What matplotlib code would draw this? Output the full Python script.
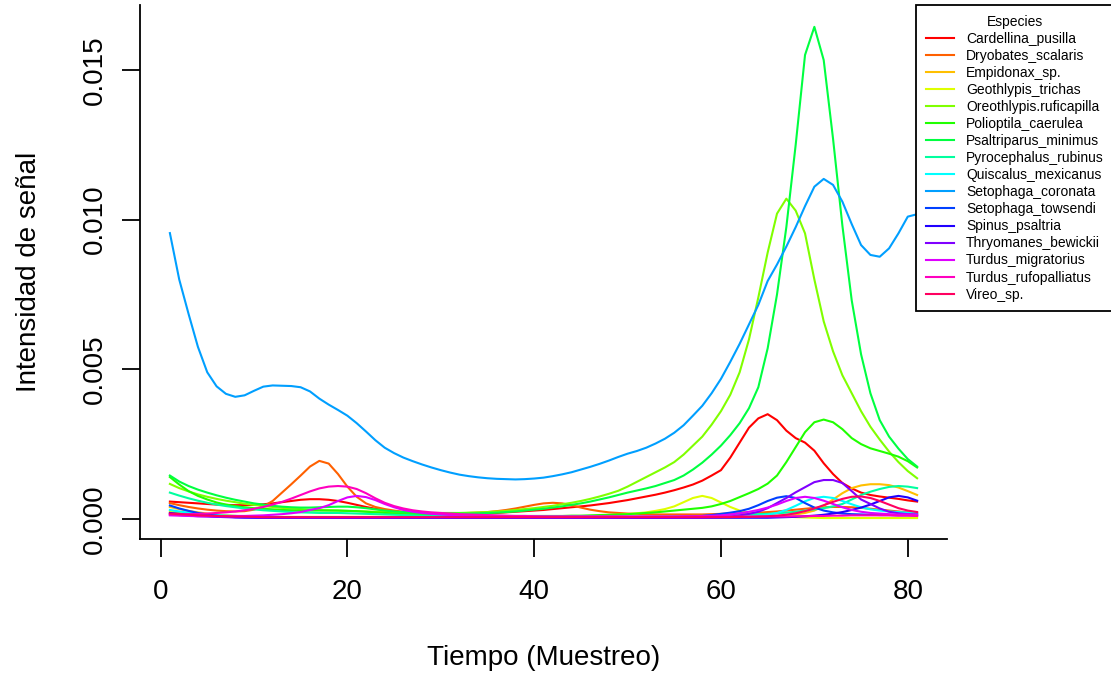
import numpy as np
import matplotlib
matplotlib.use("Agg")
import matplotlib.pyplot as plt

plt.rcParams.update({
    "font.family": "Liberation Sans",
    "axes.linewidth": 1.3,
})

# ── DATA (intensity in units of 1e-4) ─────────────────────────────────────────
muestreo = list(range(1, 82))
ESCALA = 1e-4

especies = ["Cardellina_pusilla", "Dryobates_scalaris", "Empidonax_sp.",
            "Geothlypis_trichas", "Oreothlypis.ruficapilla", "Polioptila_caerulea",
            "Psaltriparus_minimus", "Pyrocephalus_rubinus", "Quiscalus_mexicanus",
            "Setophaga_coronata", "Setophaga_towsendi", "Spinus_psaltria",
            "Thryomanes_bewickii", "Turdus_migratorius", "Turdus_rufopalliatus",
            "Vireo_sp."]

# rainbow(16)
colores = ["#FF0000", "#FF6000", "#FFBF00", "#DFFF00", "#80FF00", "#20FF00",
           "#00FF40", "#00FF9F", "#00FFFF", "#009FFF", "#0040FF", "#2000FF",
           "#8000FF", "#DF00FF", "#FF00BF", "#FF0060"]

cardellina = [5.8, 5.6, 5.4, 5.2, 5.0, 4.8, 4.7, 4.6, 4.6, 4.7,
              4.9, 5.2, 5.6, 6.0, 6.4, 6.6, 6.6, 6.4, 6.0, 5.4,
              4.7, 4.0, 3.4, 2.9, 2.5, 2.2, 2.0, 1.8, 1.7, 1.6,
              1.6, 1.6, 1.7, 1.8, 1.9, 2.0, 2.2, 2.4, 2.6, 2.8,
              3.0, 3.3, 3.6, 3.9, 4.2, 4.5, 4.9, 5.3, 5.8, 6.3,
              6.9, 7.5, 8.1, 8.8, 9.6, 10.5, 11.5, 12.8, 14.5, 16.3,
              20.5, 25.5, 30.5, 33.6, 35.0, 33.0, 29.5, 27.0, 25.5, 22.8,
              18.6, 15.0, 12.0, 10.2, 8.8, 8.0, 7.5, 7.1, 6.7, 6.2, 5.8]

dryobates = [5.3, 4.6, 4.0, 3.5, 3.1, 2.8, 2.6, 2.5, 2.6, 3.1,
             4.2, 6.0, 8.8, 11.6, 14.5, 17.5, 19.4, 18.5, 15.0, 10.8,
             7.4, 5.2, 4.0, 3.3, 2.8, 2.4, 2.2, 2.0, 1.9, 1.9,
             1.9, 1.9, 2.0, 2.1, 2.3, 2.6, 3.0, 3.5, 4.1, 4.7,
             5.2, 5.4, 5.2, 4.6, 3.8, 3.1, 2.6, 2.2, 2.0, 1.8,
             1.7, 1.6, 1.5, 1.5, 1.5, 1.5, 1.5, 1.5, 1.6, 1.7,
             1.8, 1.9, 2.0, 2.1, 2.3, 2.5, 2.8, 3.1, 3.4, 3.7,
             3.9, 4.0, 4.0, 3.9, 3.7, 3.4, 3.1, 2.8, 2.5, 2.2, 2.0]

empidonax = [4.0, 3.3, 2.7, 2.2, 1.8, 1.5, 1.2, 1.0, 0.8, 0.7,
             0.6, 0.6, 0.6, 0.6, 0.6, 0.6, 0.6, 0.6, 0.6, 0.6,
             0.5, 0.5, 0.5, 0.5, 0.5, 0.5, 0.5, 0.5, 0.5, 0.5,
             0.5, 0.5, 0.5, 0.5, 0.5, 0.5, 0.5, 0.5, 0.5, 0.5,
             0.5, 0.5, 0.5, 0.5, 0.5, 0.5, 0.5, 0.5, 0.5, 0.5,
             0.5, 0.5, 0.5, 0.5, 0.5, 0.5, 0.5, 0.6, 0.6, 0.6,
             0.6, 0.6, 0.7, 0.8, 0.9, 1.0, 1.2, 1.5, 2.0, 2.8,
             4.4, 6.5, 8.6, 10.3, 11.2, 11.6, 11.6, 11.3, 10.5, 9.3, 8.0]

geothlypis = [2.5, 2.2, 1.9, 1.7, 1.5, 1.3, 1.1, 1.0, 0.9, 0.8,
              0.7, 0.7, 0.7, 0.7, 0.7, 0.7, 0.7, 0.7, 0.7, 0.7,
              0.7, 0.7, 0.7, 0.7, 0.7, 0.7, 0.7, 0.7, 0.7, 0.7,
              0.7, 0.7, 0.7, 0.7, 0.7, 0.7, 0.7, 0.7, 0.7, 0.7,
              0.7, 0.7, 0.8, 0.8, 0.9, 1.0, 1.1, 1.2, 1.4, 1.6,
              1.9, 2.2, 2.7, 3.3, 4.2, 5.6, 7.0, 7.7, 7.0, 5.5,
              4.0, 2.8, 2.0, 1.5, 1.2, 1.0, 0.8, 0.6, 0.5, 0.4,
              0.3, 0.3, 0.3, 0.3, 0.3, 0.3, 0.3, 0.3, 0.3, 0.3, 0.3]

oreothlypis = [11.7, 10.3, 9.2, 8.2, 7.4, 6.7, 6.1, 5.6, 5.1, 4.7,
               4.3, 4.0, 3.7, 3.5, 3.3, 3.1, 3.0, 2.9, 2.8, 2.7,
               2.6, 2.5, 2.4, 2.3, 2.2, 2.1, 2.0, 2.0, 2.0, 2.0,
               2.0, 2.0, 2.1, 2.2, 2.3, 2.5, 2.7, 3.0, 3.3, 3.6,
               4.0, 4.4, 4.9, 5.4, 6.0, 6.7, 7.5, 8.4, 9.4, 10.8,
               12.4, 14.0, 15.6, 17.2, 19.0, 21.5, 24.5, 27.5, 31.5, 36.0,
               41.5, 49.0, 60.0, 74.0, 89.0, 102.0, 107.0, 103.0, 95.4, 80.0,
               66.0, 56.0, 48.0, 42.0, 36.0, 30.8, 26.5, 22.5, 19.0, 16.0, 13.6]

polioptila = [14.0, 11.5, 9.3, 7.7, 6.5, 5.5, 4.8, 4.3, 3.9, 3.6,
              3.4, 3.2, 3.0, 2.9, 2.8, 2.8, 2.8, 2.8, 2.8, 2.7,
              2.6, 2.4, 2.2, 2.0, 1.8, 1.6, 1.5, 1.4, 1.3, 1.2,
              1.1, 1.1, 1.0, 1.0, 1.0, 1.0, 1.0, 1.0, 1.0, 1.0,
              1.0, 1.0, 1.0, 1.1, 1.1, 1.2, 1.3, 1.4, 1.5, 1.6,
              1.8, 2.0, 2.2, 2.5, 2.8, 3.1, 3.4, 3.7, 4.2, 5.0,
              6.0, 7.3, 8.6, 10.0, 11.8, 14.5, 19.0, 24.0, 29.0, 32.3,
              33.2, 32.3, 30.0, 27.0, 25.0, 23.6, 22.7, 21.8, 20.8, 19.3, 17.2]

psaltriparus = [14.5, 12.5, 11.0, 9.8, 8.8, 7.9, 7.1, 6.4, 5.8, 5.2,
                4.8, 4.4, 4.1, 3.9, 3.8, 3.8, 3.9, 4.0, 4.1, 4.1,
                3.9, 3.6, 3.2, 2.8, 2.5, 2.3, 2.1, 2.0, 1.9, 1.8,
                1.8, 1.8, 1.8, 1.9, 2.0, 2.1, 2.3, 2.5, 2.8, 3.1,
                3.4, 3.8, 4.2, 4.7, 5.2, 5.8, 6.5, 7.2, 8.0, 8.8,
                9.5, 10.2, 11.0, 12.0, 13.0, 14.5, 16.5, 18.8, 21.5, 24.5,
                28.0, 32.0, 37.0, 44.0, 57.0, 75.0, 97.5, 125.0, 155.0, 164.4,
                153.3, 127.0, 98.0, 73.0, 55.0, 42.0, 33.0, 27.5, 23.5, 20.0, 17.5]

pyrocephalus = [8.8, 7.8, 6.9, 6.1, 5.4, 4.8, 4.3, 3.9, 3.5, 3.2,
                2.9, 2.7, 2.5, 2.3, 2.2, 2.1, 2.0, 2.0, 2.0, 1.9,
                1.8, 1.7, 1.6, 1.5, 1.4, 1.3, 1.2, 1.1, 1.0, 1.0,
                0.9, 0.9, 0.9, 0.9, 0.9, 0.9, 0.9, 0.9, 0.9, 0.9,
                0.8, 0.8, 0.8, 0.8, 0.8, 0.8, 0.8, 0.8, 0.8, 0.8,
                0.8, 0.8, 0.8, 0.8, 0.9, 0.9, 1.0, 1.0, 1.1, 1.2,
                1.3, 1.4, 1.5, 1.6, 1.7, 1.9, 2.1, 2.4, 2.8, 3.2,
                3.6, 4.2, 5.0, 6.5, 8.0, 9.1, 10.0, 10.7, 11.0, 10.8, 10.3]

quiscalus = [3.0, 2.5, 2.1, 1.8, 1.5, 1.3, 1.1, 1.0, 0.9, 0.8,
             0.7, 0.7, 0.6, 0.6, 0.6, 0.6, 0.6, 0.6, 0.6, 0.6,
             0.6, 0.6, 0.6, 0.6, 0.6, 0.6, 0.6, 0.6, 0.6, 0.6,
             0.6, 0.6, 0.6, 0.6, 0.6, 0.6, 0.6, 0.6, 0.6, 0.6,
             0.6, 0.6, 0.6, 0.6, 0.6, 0.6, 0.6, 0.6, 0.6, 0.6,
             0.6, 0.6, 0.6, 0.6, 0.6, 0.6, 0.6, 0.6, 0.6, 0.6,
             0.7, 0.8, 0.9, 1.1, 1.4, 2.0, 3.0, 4.4, 5.9, 7.0,
             7.4, 7.0, 6.0, 4.9, 3.9, 3.2, 2.8, 2.5, 2.3, 2.1, 1.9]

coronata = [95.5, 80.0, 68.5, 57.5, 49.0, 44.3, 41.8, 40.8, 41.3, 42.8,
            44.2, 44.6, 44.5, 44.4, 44.0, 42.6, 40.2, 38.2, 36.4, 34.5,
            32.0, 29.2, 26.3, 23.8, 22.0, 20.5, 19.3, 18.2, 17.2, 16.3,
            15.5, 14.8, 14.3, 13.9, 13.6, 13.4, 13.3, 13.2, 13.3, 13.5,
            13.8, 14.3, 14.9, 15.6, 16.5, 17.4, 18.4, 19.5, 20.7, 21.8,
            22.7, 23.8, 25.2, 26.8, 28.8, 31.3, 34.5, 37.8, 42.0, 46.8,
            52.5, 58.5, 65.0, 71.5, 79.5, 85.0, 91.0, 97.5, 104.5, 111.0,
            113.6, 111.6, 106.0, 98.5, 91.5, 88.2, 87.6, 90.4, 95.4, 101.0, 101.8]

towsendi = [4.5, 3.5, 2.7, 2.0, 1.5, 1.1, 0.8, 0.6, 0.5, 0.4,
            0.4, 0.4, 0.4, 0.4, 0.4, 0.4, 0.4, 0.4, 0.4, 0.4,
            0.4, 0.4, 0.4, 0.4, 0.4, 0.4, 0.4, 0.4, 0.4, 0.4,
            0.4, 0.4, 0.4, 0.4, 0.4, 0.4, 0.4, 0.4, 0.4, 0.4,
            0.4, 0.4, 0.4, 0.4, 0.4, 0.4, 0.4, 0.4, 0.4, 0.4,
            0.4, 0.4, 0.5, 0.5, 0.6, 0.7, 0.8, 1.0, 1.3, 1.7,
            2.1, 2.6, 3.4, 4.6, 6.0, 7.1, 7.6, 7.0, 5.3, 3.8,
            2.8, 2.2, 1.8, 1.6, 1.5, 1.4, 1.3, 1.3, 1.2, 1.2, 1.1]

spinus = [2.0, 1.7, 1.4, 1.2, 1.0, 0.8, 0.7, 0.6, 0.5, 0.5,
          0.4, 0.4, 0.4, 0.4, 0.4, 0.4, 0.4, 0.4, 0.4, 0.4,
          0.4, 0.4, 0.4, 0.4, 0.4, 0.4, 0.4, 0.4, 0.4, 0.4,
          0.4, 0.4, 0.4, 0.4, 0.4, 0.4, 0.4, 0.4, 0.4, 0.4,
          0.4, 0.4, 0.4, 0.4, 0.4, 0.4, 0.4, 0.4, 0.4, 0.4,
          0.4, 0.4, 0.4, 0.4, 0.4, 0.4, 0.4, 0.4, 0.4, 0.4,
          0.4, 0.4, 0.4, 0.4, 0.4, 0.5, 0.6, 0.7, 0.9, 1.1,
          1.4, 1.8, 2.3, 3.0, 3.8, 4.8, 6.0, 7.2, 7.7, 7.2, 6.1]

thryomanes = [1.5, 1.3, 1.1, 0.9, 0.8, 0.7, 0.6, 0.5, 0.5, 0.5,
              0.4, 0.4, 0.4, 0.4, 0.4, 0.4, 0.4, 0.4, 0.4, 0.4,
              0.4, 0.4, 0.4, 0.4, 0.4, 0.4, 0.4, 0.4, 0.4, 0.4,
              0.4, 0.4, 0.4, 0.4, 0.4, 0.4, 0.4, 0.4, 0.4, 0.4,
              0.4, 0.4, 0.4, 0.4, 0.4, 0.4, 0.4, 0.4, 0.4, 0.4,
              0.4, 0.4, 0.4, 0.4, 0.4, 0.4, 0.4, 0.4, 0.5, 0.6,
              0.8, 1.2, 1.7, 2.4, 3.6, 5.3, 7.0, 8.9, 10.6, 12.3,
              13.0, 13.0, 12.0, 9.3, 6.5, 5.0, 3.5, 2.4, 1.9, 1.6, 1.5]

migratorius = [1.2, 1.1, 1.0, 0.9, 0.9, 0.9, 0.9, 1.0, 1.0, 1.1,
               1.2, 1.4, 1.6, 1.9, 2.3, 3.0, 3.6, 4.6, 6.0, 7.2,
               7.7, 7.3, 6.3, 5.0, 3.9, 3.0, 2.4, 2.0, 1.7, 1.5,
               1.3, 1.2, 1.1, 1.0, 0.9, 0.9, 0.8, 0.8, 0.8, 0.8,
               0.8, 0.8, 0.8, 0.8, 0.8, 0.8, 0.8, 0.8, 0.8, 0.8,
               0.8, 0.8, 0.8, 0.8, 0.8, 0.9, 0.9, 1.0, 1.1, 1.2,
               1.5, 1.9, 2.4, 3.0, 3.8, 4.8, 6.0, 7.0, 7.4, 7.0,
               6.1, 5.0, 3.9, 3.0, 2.4, 2.0, 1.8, 1.6, 1.5, 1.5, 1.4]

rufopalliatus = [1.5, 1.5, 1.6, 1.7, 1.8, 2.0, 2.2, 2.5, 2.9, 3.4,
                 4.0, 4.8, 5.7, 6.8, 8.0, 9.2, 10.2, 10.8, 11.0, 10.8,
                 10.0, 8.6, 6.9, 5.4, 4.3, 3.5, 2.9, 2.5, 2.2, 2.0,
                 1.8, 1.6, 1.5, 1.4, 1.3, 1.2, 1.1, 1.0, 1.0, 0.9,
                 0.8, 0.8, 0.8, 0.8, 0.8, 0.8, 0.8, 0.8, 0.8, 0.8,
                 0.8, 0.8, 0.8, 0.8, 0.8, 0.8, 0.8, 0.8, 0.8, 0.8,
                 0.8, 0.8, 0.8, 0.8, 0.8, 0.8, 0.8, 0.9, 0.9, 1.0,
                 1.0, 1.1, 1.1, 1.2, 1.2, 1.2, 1.2, 1.2, 1.1, 1.1, 1.0]

vireo = [1.8, 1.6, 1.4, 1.2, 1.1, 1.0, 0.9, 0.8, 0.8, 0.7,
         0.6, 0.6, 0.6, 0.6, 0.6, 0.6, 0.6, 0.6, 0.6, 0.6,
         0.6, 0.6, 0.6, 0.6, 0.6, 0.6, 0.6, 0.6, 0.6, 0.6,
         0.6, 0.6, 0.6, 0.6, 0.6, 0.6, 0.6, 0.6, 0.6, 0.6,
         0.6, 0.6, 0.6, 0.6, 0.6, 0.6, 0.6, 0.6, 0.6, 0.6,
         0.6, 0.6, 0.6, 0.6, 0.6, 0.6, 0.6, 0.6, 0.6, 0.6,
         0.6, 0.7, 0.7, 0.8, 0.9, 1.1, 1.4, 1.9, 2.6, 3.5,
         4.6, 5.7, 6.7, 7.4, 7.5, 7.0, 6.0, 4.8, 3.6, 2.8, 2.3]

series = [cardellina, dryobates, empidonax, geothlypis, oreothlypis, polioptila,
          psaltriparus, pyrocephalus, quiscalus, coronata, towsendi, spinus,
          thryomanes, migratorius, rufopalliatus, vireo]

# ── PLOT ──────────────────────────────────────────────────────────────────────
W, H = 1111, 676
fig = plt.figure(figsize=(W / 100, H / 100), dpi=100)
ax = fig.add_axes([140 / W, (H - 539) / H, 807 / W, 534 / H])

for nombre, color, vals in zip(especies, colores, series):
    ax.plot(muestreo, np.array(vals) * ESCALA, color=color, lw=1.5, label=nombre)

ax.set_xlim(-2.2, 84.2)
ax.set_ylim(-0.00067, 0.01717)
ax.spines[["top", "right"]].set_visible(False)

ax.set_xticks([0, 20, 40, 60, 80])
ax.set_yticks([0.0, 0.005, 0.010, 0.015])
ax.set_yticklabels(["0.000", "0.005", "0.010", "0.015"], rotation=90, va="center")
ax.tick_params(axis="both", length=13, width=1.3, labelsize=20, color="black")
ax.tick_params(axis="x", pad=16)
ax.tick_params(axis="y", pad=10)

ax.set_xlabel("Tiempo (Muestreo)", fontsize=20)
ax.set_ylabel("Intensidad de señal", fontsize=20)
ax.xaxis.set_label_coords(0.5, -0.198)
ax.yaxis.set_label_coords(-0.121, 0.5)

leg = ax.legend(loc="upper left", bbox_to_anchor=(916 / W, (H - 5) / H),
                bbox_transform=fig.transFigure, borderaxespad=0,
                fontsize=10, title="Especies", title_fontsize=10,
                frameon=True, fancybox=False, edgecolor="black", framealpha=1,
                handlelength=2.0, handletextpad=0.9, labelspacing=0.22,
                borderpad=0.7)
leg.get_frame().set_linewidth(1.3)

fig.savefig("out.png", dpi=100)
